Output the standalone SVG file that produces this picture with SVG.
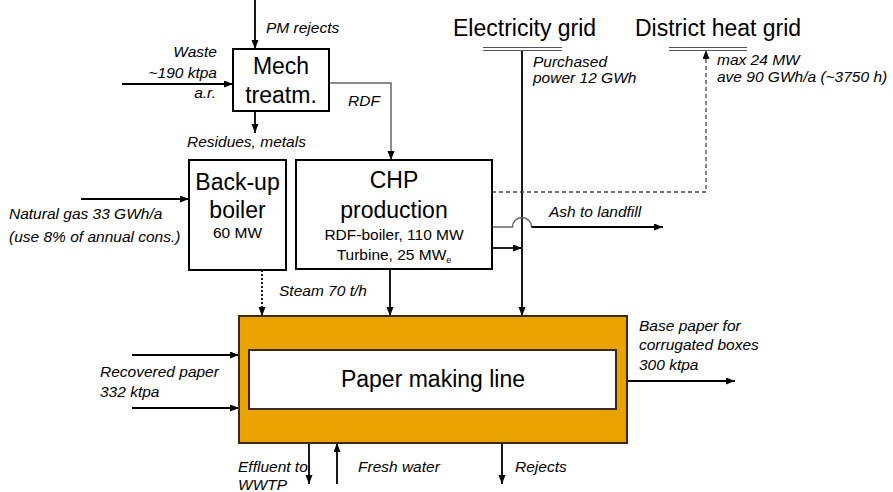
<svg xmlns="http://www.w3.org/2000/svg" width="893" height="492" viewBox="0 0 893 492">
<style>
.box{fill:#fff;stroke:#000;stroke-width:2}
.t{font-family:"Liberation Sans",Arial,sans-serif;fill:#000}
.big{font-size:23px}
.mid{font-size:15.5px}
.lab{font-family:"Liberation Sans",Arial,sans-serif;font-size:15.5px;font-style:italic;fill:#000}
.ln{fill:none;stroke:#000;stroke-width:1.8}
.gr{fill:none;stroke:#666;stroke-width:1.5}
.ar{marker-end:url(#ah)}
</style>
<defs>
<marker id="ah" markerUnits="userSpaceOnUse" markerWidth="10" markerHeight="8" refX="9" refY="3.5" orient="auto">
<path d="M0,0 L9,3.5 L0,7 z" fill="#000"/>
</marker>
</defs>
<g id="connectors">
<line class="ln ar" x1="255" y1="0" x2="255" y2="49"/>
<line class="ln ar" x1="122" y1="84" x2="233" y2="84"/>
<line class="ln ar" x1="255" y1="111" x2="255" y2="133"/>
<polyline class="gr ar" points="329,83 391,83 391,160"/>
<line class="ln ar" x1="81" y1="199" x2="189" y2="199"/>
<line class="ln ar" x1="262" y1="270" x2="262" y2="316" stroke-dasharray="2,2"/>
<line class="ln ar" x1="390" y1="269" x2="390" y2="316"/>
<line class="ln ar" x1="522" y1="50" x2="522" y2="316"/>
<polyline class="ar" points="492,192 706,192 706,50" fill="none" stroke="#444" stroke-width="1.3" stroke-dasharray="4,3"/>
<path class="gr" d="M492,227 H512.5 A9.5,9.5 0 0 1 531.5,227"/>
<line class="ln ar" x1="531.5" y1="227" x2="663" y2="227"/>
<line class="ln ar" x1="492" y1="248" x2="522" y2="248"/>
<line class="ln ar" x1="132" y1="355" x2="239" y2="355"/>
<line class="ln ar" x1="132" y1="408" x2="239" y2="408"/>
<line class="ln ar" x1="627" y1="381" x2="735" y2="381"/>
<line class="ln ar" x1="309" y1="443" x2="309" y2="484"/>
<line class="ln ar" x1="337" y1="484" x2="337" y2="443"/>
<line class="ln ar" x1="502" y1="443" x2="502" y2="484"/>
</g>
<g id="electricity-grid">
<text class="t big" x="453" y="36">Electricity grid</text>
<line x1="483" y1="47.5" x2="562" y2="47.5" stroke="#555" stroke-width="1.2"/>
<line x1="483" y1="50.5" x2="562" y2="50.5" stroke="#555" stroke-width="1.2"/>
</g>
<g id="district-heat-grid">
<text class="t big" x="635" y="36">District heat grid</text>
<line x1="669" y1="47.5" x2="747" y2="47.5" stroke="#555" stroke-width="1.2"/>
<line x1="669" y1="50.5" x2="747" y2="50.5" stroke="#555" stroke-width="1.2"/>
</g>
<g id="mech-treatm">
<rect class="box" x="233" y="49" width="96" height="62"/>
<text class="t big" x="281" y="74" text-anchor="middle">Mech</text>
<text class="t big" x="281" y="103" text-anchor="middle">treatm.</text>
</g>
<g id="backup-boiler">
<rect class="box" x="189" y="160" width="97" height="110"/>
<text class="t big" x="237.5" y="190" text-anchor="middle">Back-up</text>
<text class="t big" x="237.5" y="218" text-anchor="middle">boiler</text>
<text class="t mid" x="237.5" y="238" text-anchor="middle">60 MW</text>
</g>
<g id="chp-production">
<rect class="box" x="296" y="160" width="196" height="109"/>
<text class="t big" x="394" y="188" text-anchor="middle">CHP</text>
<text class="t big" x="394" y="218" text-anchor="middle">production</text>
<text class="t mid" x="394" y="240" text-anchor="middle">RDF-boiler, 110 MW</text>
<text class="t mid" x="394" y="260" text-anchor="middle">Turbine, 25 MW<tspan font-size="9" dy="3">e</tspan></text>
</g>
<g id="paper-making-line">
<rect x="239" y="316" width="388" height="127" fill="#E9A300" stroke="#3a2a10" stroke-width="2"/>
<rect x="249" y="350" width="367" height="59" fill="#fff" stroke="#3a2a10" stroke-width="2"/>
<text class="t big" x="433" y="387" text-anchor="middle">Paper making line</text>
</g>
<g id="labels">
<text class="lab" x="266" y="33">PM rejects</text>
<text class="lab" x="217" y="57" text-anchor="end">Waste</text>
<text class="lab" x="217" y="78" text-anchor="end">~190 ktpa</text>
<text class="lab" x="216" y="98" text-anchor="end">a.r.</text>
<text class="lab" x="348" y="106">RDF</text>
<text class="lab" x="187" y="147">Residues, metals</text>
<text class="lab" x="533" y="67">Purchased</text>
<text class="lab" x="533" y="83">power 12 GWh</text>
<text class="lab" x="717" y="65">max 24 MW</text>
<text class="lab" x="717" y="82">ave 90 GWh/a (~3750 h)</text>
<text class="lab" x="9" y="219">Natural gas 33 GWh/a</text>
<text class="lab" x="9" y="242">(use 8% of annual cons.)</text>
<text class="lab" x="549" y="217">Ash to landfill</text>
<text class="lab" x="279" y="296">Steam 70 t/h</text>
<text class="lab" x="100" y="377">Recovered paper</text>
<text class="lab" x="100" y="397">332 ktpa</text>
<text class="lab" x="639" y="331">Base paper for</text>
<text class="lab" x="639" y="350">corrugated boxes</text>
<text class="lab" x="639" y="370">300 ktpa</text>
<text class="lab" x="238" y="472">Effluent to</text>
<text class="lab" x="238" y="490">WWTP</text>
<text class="lab" x="358" y="472">Fresh water</text>
<text class="lab" x="515" y="472">Rejects</text>
</g>
</svg>
